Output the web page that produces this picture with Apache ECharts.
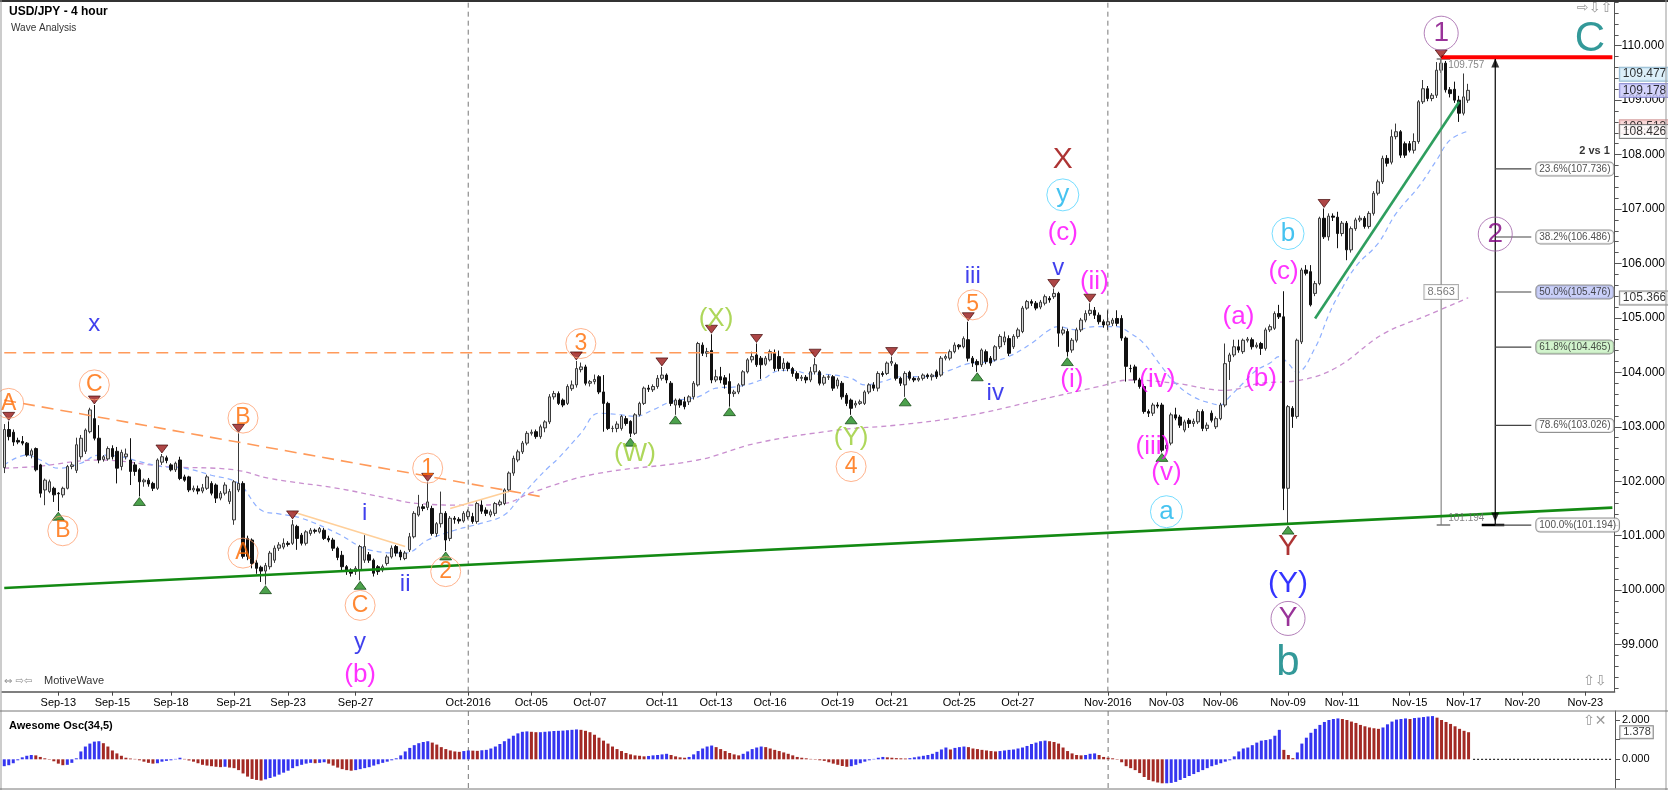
<!DOCTYPE html>
<html><head><meta charset="utf-8">
<script src="https://cdn.jsdelivr.net/npm/echarts@6/dist/echarts.min.js"></script>
<style>html,body{margin:0;padding:0;background:#fff}#c{width:1668px;height:790px}</style>
</head><body><div id="c"></div>
<script>
// ---------- DATA ----------
// 4-hour candles: [open, close, low, high], one per slot
const candles = [
[102.25,102.95,102.15,103.05],[102.95,102.82,102.75,103.10],[102.90,102.72,102.65,102.95],[102.75,102.72,102.68,102.80],[102.73,102.70,102.66,102.83],
[102.70,102.48,102.45,102.72],[102.48,102.56,102.42,102.60],[102.60,102.21,102.18,102.62],[102.30,101.78,101.70,102.32],[101.84,102.02,101.56,102.05],
[101.81,101.99,101.78,102.03],[101.87,101.75,101.62,101.90],[101.78,101.77,101.45,101.80],[101.75,101.87,101.70,101.90],[101.87,102.27,101.85,102.30],
[102.27,102.30,102.22,102.35],[102.20,102.67,102.15,102.80],[102.45,102.79,102.40,102.85],[102.55,102.94,102.50,102.97],[102.91,103.31,102.88,103.35],
[103.15,102.79,102.75,103.40],[102.79,102.39,102.33,103.03],[102.40,102.45,102.36,102.48],[102.41,102.60,102.38,102.64],[102.60,102.45,102.40,102.66],
[102.55,102.24,101.96,102.63],[102.27,102.53,102.20,102.58],[102.45,102.50,102.40,102.60],[102.39,102.18,101.93,102.79],[102.30,102.18,102.10,102.35],
[102.21,101.99,101.72,102.24],[101.99,102.02,101.90,102.05],[102.02,101.95,101.90,102.06],[101.96,101.87,101.82,101.99],[101.87,102.39,101.84,102.42],
[102.35,102.45,102.30,102.50],[102.43,102.38,102.33,102.47],[102.30,102.21,102.18,102.33],[102.21,102.33,102.17,102.36],[102.39,102.05,102.02,102.45],
[102.08,102.02,101.99,102.12],[102.08,101.84,101.80,102.10],[101.84,101.87,101.80,101.92],[101.86,101.82,101.76,101.92],[101.82,101.88,101.78,101.95],
[101.87,102.08,101.84,102.12],[101.96,101.78,101.74,102.00],[101.93,101.69,101.60,101.96],[101.69,101.78,101.65,101.82],[101.78,101.93,101.74,101.98],
[101.63,101.81,101.58,101.86],[101.29,101.99,101.20,102.02],[101.84,101.96,101.80,102.88],[101.96,100.62,100.58,102.00],[100.95,100.62,100.55,101.00],
[100.92,100.49,100.40,100.95],[100.50,100.40,100.30,100.55],[100.42,100.35,100.15,100.45],[100.35,100.45,100.10,100.50],[100.43,100.68,100.38,100.72],
[100.55,100.77,100.50,100.82],[100.77,100.83,100.72,100.88],[100.79,100.86,100.75,100.95],[100.86,100.84,100.80,100.90],[100.86,101.20,100.83,101.29],
[101.17,100.95,100.74,101.20],[101.01,100.86,100.82,101.05],[100.86,101.07,100.82,101.10],[101.04,101.10,101.00,101.14],[101.10,101.08,101.04,101.13],
[101.07,101.13,101.04,101.16],[101.10,100.95,100.92,101.14],[100.95,100.92,100.88,101.00],[100.92,100.77,100.72,100.96],[100.77,100.60,100.55,100.80],
[100.64,100.43,100.36,100.72],[100.43,100.34,100.28,100.46],[100.37,100.31,100.25,100.40],[100.34,100.40,100.28,100.44],[100.37,100.80,100.18,100.83],
[100.55,100.80,100.50,101.01],[100.65,100.55,100.50,100.70],[100.55,100.31,100.25,100.58],[100.43,100.34,100.28,100.46],[100.37,100.43,100.33,100.47],
[100.49,100.61,100.45,100.65],[100.61,100.77,100.58,100.82],[100.80,100.68,100.62,100.83],[100.70,100.61,100.55,100.74],[100.58,100.68,100.55,100.72],
[100.74,100.98,100.70,101.05],[100.98,101.41,100.95,101.45],[101.38,101.53,101.35,101.75],[101.53,101.50,101.45,101.58],[101.52,101.62,101.47,101.98],
[101.50,101.04,101.00,101.55],[101.04,101.22,100.98,101.25],[101.22,101.41,101.15,101.81],[101.41,100.92,100.72,101.45],[100.95,101.32,100.90,101.36],
[101.32,101.30,101.22,101.36],[101.30,101.27,101.22,101.34],[101.27,101.41,101.24,101.45],[101.35,101.44,101.30,101.48],[101.35,101.26,101.22,101.42],
[101.26,101.59,101.22,101.63],[101.56,101.45,101.40,101.65],[101.47,101.41,101.36,101.52],[101.38,101.44,101.34,101.48],[101.41,101.59,101.36,101.62],
[101.57,101.62,101.54,101.66],[101.59,101.84,101.56,101.87],[101.84,102.15,101.80,102.18],[102.15,102.42,102.10,102.47],[102.39,102.54,102.35,102.58],
[102.54,102.70,102.50,102.74],[102.70,102.88,102.66,102.92],[102.88,102.90,102.84,102.95],[102.91,102.82,102.78,102.95],[102.82,103.00,102.78,103.04],
[102.98,103.09,102.90,103.12],[103.09,103.55,103.05,103.60],[103.55,103.61,103.50,103.66],[103.61,103.43,103.40,103.65],[103.49,103.40,103.36,103.52],
[103.43,103.74,103.40,103.78],[103.70,103.77,103.66,103.85],[103.77,104.07,103.72,104.21],[104.05,104.10,104.00,104.18],[104.10,103.80,103.76,104.14],
[103.80,103.83,103.74,103.86],[103.83,103.87,103.78,103.96],[103.92,103.64,103.60,103.95],[103.64,103.43,102.91,103.95],[103.43,102.97,102.94,103.46],
[102.97,102.97,102.90,103.02],[102.97,103.05,102.90,103.10],[102.97,103.19,102.93,103.22],[103.15,103.06,103.02,103.20],[103.10,102.88,102.81,103.12],
[102.88,103.22,102.85,103.25],[103.22,103.43,103.19,103.46],[103.43,103.71,103.40,103.74],[103.71,103.69,103.64,103.77],[103.68,103.74,103.64,103.78],
[103.74,103.89,103.70,103.95],[103.89,103.95,103.85,104.10],[103.95,103.86,103.80,103.98],[103.80,103.43,103.38,103.84],[103.40,103.49,103.22,103.52],
[103.49,103.40,103.35,103.52],[103.46,103.37,103.32,103.55],[103.46,103.55,103.40,103.58],[103.55,103.80,103.50,103.84],[103.77,104.53,103.74,104.56],
[104.50,104.35,104.30,104.55],[104.35,104.38,104.28,104.45],[104.40,103.86,103.80,104.70],[103.86,103.92,103.82,104.05],[103.92,103.86,103.80,104.10],
[103.90,103.78,103.70,103.95],[103.83,103.61,103.37,103.98],[103.61,103.64,103.55,103.68],[103.64,103.77,103.60,103.80],[103.77,104.01,103.74,104.04],
[104.01,104.23,103.98,104.26],[104.23,104.29,104.18,104.38],[104.32,104.14,104.10,104.53],[104.26,104.14,103.88,104.30],[104.15,104.26,104.12,104.30],
[104.23,104.38,104.20,104.42],[104.35,104.07,104.02,104.42],[104.29,104.07,104.02,104.40],[104.07,104.17,104.02,104.26],[104.17,104.07,104.02,104.20],
[104.07,103.98,103.92,104.10],[103.98,103.89,103.84,104.02],[103.89,103.91,103.84,103.95],[103.91,103.86,103.80,103.95],[103.86,104.01,103.82,104.10],
[104.01,104.14,103.96,104.26],[104.01,103.80,103.76,104.04],[103.80,103.91,103.76,103.95],[103.91,103.92,103.86,103.96],[103.92,103.71,103.66,103.95],
[103.75,103.86,103.70,103.90],[103.80,103.55,103.50,103.84],[103.58,103.43,103.38,103.62],[103.49,103.34,103.22,103.52],[103.40,103.43,103.35,103.48],
[103.43,103.46,103.40,103.50],[103.43,103.64,103.40,103.67],[103.64,103.77,103.60,103.80],[103.77,103.71,103.66,103.82],[103.71,103.98,103.65,104.02],
[103.98,103.96,103.92,104.02],[103.98,104.17,103.95,104.20],[104.17,104.20,104.12,104.29],[104.14,103.89,103.85,104.18],[103.89,103.80,103.75,103.92],
[103.77,103.98,103.55,104.02],[104.00,103.89,103.85,104.03],[103.89,103.86,103.82,103.92],[103.86,103.89,103.83,103.93],[103.89,103.95,103.85,103.98],
[103.95,103.92,103.88,103.98],[103.92,103.95,103.85,103.98],[104.01,103.92,103.88,104.05],[103.95,104.26,103.92,104.30],[104.26,104.29,104.22,104.33],
[104.26,104.38,104.22,104.42],[104.38,104.50,104.35,104.55],[104.50,104.47,104.42,104.52],[104.47,104.62,104.44,104.66],[104.60,104.26,104.20,104.93],
[104.26,104.17,104.10,104.30],[104.20,104.14,104.01,104.24],[104.14,104.41,104.10,104.44],[104.38,104.20,104.15,104.42],[104.26,104.17,104.12,104.30],
[104.23,104.47,104.20,104.50],[104.47,104.66,104.43,104.70],[104.56,104.65,104.50,104.75],[104.62,104.35,104.30,104.68],[104.47,104.66,104.43,104.70],
[104.66,104.78,104.62,104.82],[104.75,105.18,104.72,105.22],[105.18,105.30,105.15,105.33],[105.30,105.27,105.22,105.34],[105.27,105.18,105.14,105.31],
[105.20,105.29,105.16,105.33],[105.27,105.39,105.23,105.43],[105.36,105.33,105.28,105.40],[105.39,105.45,105.35,105.54],[105.45,104.72,104.47,105.48],
[104.72,104.78,104.68,104.84],[104.75,104.38,104.29,104.80],[104.41,104.59,104.36,104.63],[104.59,104.78,104.55,104.82],[104.78,104.96,104.74,105.00],
[104.96,105.08,104.92,105.14],[105.08,105.14,105.04,105.27],[105.14,105.05,104.98,105.20],[105.05,104.93,104.88,105.10],[104.93,104.87,104.82,104.97],
[104.87,104.93,104.78,105.14],[104.90,104.96,104.85,105.00],[104.99,104.90,104.85,105.14],[104.99,104.63,104.58,105.05],[104.63,104.11,103.83,104.66],
[104.07,104.07,104.00,104.14],[104.10,103.86,103.80,104.14],[103.86,103.74,103.70,103.90],[103.74,103.28,103.24,103.78],[103.28,103.25,103.18,103.32],
[103.25,103.40,103.20,103.44],[103.40,103.38,103.34,103.45],[103.40,102.57,102.53,103.44],[102.60,102.66,102.55,102.70],[102.70,103.22,102.66,103.26],
[103.22,103.16,103.12,103.35],[103.18,103.03,102.98,103.22],[102.94,103.09,102.90,103.13],[103.12,103.06,102.98,103.16],[103.06,103.10,103.00,103.15],
[103.09,103.28,103.05,103.32],[103.28,102.97,102.92,103.32],[102.97,103.03,102.92,103.08],[103.25,103.12,103.08,103.30],[103.00,103.15,102.96,103.19],
[103.15,103.40,103.12,103.44],[103.40,104.16,103.36,104.53],[104.20,104.32,103.86,104.36],[104.32,104.47,104.28,104.60],[104.47,104.41,104.36,104.60],
[104.38,104.59,104.34,104.62],[104.59,104.61,104.55,104.65],[104.60,104.47,104.42,104.64],[104.47,104.50,104.44,104.55],[104.53,104.44,104.32,104.56],
[104.44,104.78,104.40,104.82],[104.78,104.84,104.74,104.88],[104.81,105.08,104.78,105.12],[105.08,105.02,104.98,105.24],[105.02,101.87,101.47,105.49],
[101.87,103.37,101.194,103.40],[103.34,103.19,102.98,103.38],[103.19,104.59,103.15,104.62],[104.56,105.88,104.52,105.92],[105.88,105.82,105.78,105.97],
[105.85,105.24,105.21,105.97],[105.45,105.63,105.40,105.68],[105.63,106.83,105.60,106.86],[106.83,106.49,106.45,107.01],[106.49,106.87,106.42,106.92],
[106.87,106.85,106.78,106.92],[106.85,106.55,106.28,106.95],[106.55,106.74,106.50,106.78],[106.74,106.25,106.06,106.78],[106.25,106.64,106.20,106.68],
[106.64,106.80,106.60,106.84],[106.80,106.83,106.76,106.88],[106.83,106.68,106.64,106.87],[106.68,106.92,106.64,106.96],[106.92,107.29,106.88,107.33],
[107.29,107.50,107.25,107.54],[107.50,107.93,107.46,107.98],[107.93,107.84,107.78,107.99],[107.86,108.33,107.82,108.46],[108.33,108.42,108.28,108.57],
[108.42,107.99,107.94,108.45],[108.20,107.99,107.94,108.24],[108.20,108.08,108.04,108.25],[108.08,108.24,108.02,108.39],[108.24,108.97,108.20,109.00],
[108.97,109.21,108.93,109.37],[109.21,109.03,108.98,109.26],[109.03,109.09,108.98,109.13],[109.09,109.55,109.04,109.70],[109.55,109.68,109.50,109.757],
[109.68,109.19,109.14,109.72],[109.19,109.12,109.05,109.24],[109.20,109.00,108.95,109.34],[109.00,108.76,108.60,109.08],[108.76,109.06,108.72,109.49],
[109.00,109.18,108.95,109.30]
];

// Awesome Oscillator (34,5), one value per candle
const aoValues = [
-0.35,-0.30,-0.20,-0.05,0.10,0.18,0.22,0.20,0.12,0.05,
-0.02,-0.10,-0.22,-0.30,-0.28,-0.18,0.05,0.40,0.65,0.80,
0.90,0.92,0.82,0.65,0.45,0.30,0.18,0.08,0.04,0.02,
-0.05,-0.12,-0.18,-0.22,-0.20,-0.12,-0.08,-0.05,0.02,0.08,
0.02,-0.06,-0.12,-0.20,-0.28,-0.32,-0.35,-0.38,-0.40,-0.38,
-0.42,-0.45,-0.55,-0.72,-0.88,-1.00,-1.05,-1.08,-1.02,-0.95,
-0.88,-0.78,-0.68,-0.58,-0.45,-0.35,-0.28,-0.22,-0.18,-0.20,
-0.18,-0.15,-0.22,-0.32,-0.42,-0.50,-0.55,-0.58,-0.55,-0.50,
-0.45,-0.40,-0.32,-0.25,-0.18,-0.12,-0.05,0.05,0.20,0.40,
0.58,0.72,0.82,0.88,0.92,0.85,0.75,0.62,0.52,0.45,
0.40,0.38,0.42,0.45,0.44,0.43,0.46,0.48,0.55,0.65,
0.78,0.92,1.05,1.20,1.32,1.40,1.42,1.40,1.38,1.38,
1.40,1.42,1.44,1.45,1.46,1.48,1.50,1.52,1.50,1.45,
1.38,1.25,1.10,0.95,0.80,0.65,0.52,0.42,0.32,0.25,
0.20,0.18,0.15,0.17,0.20,0.22,0.25,0.28,0.22,0.15,
0.10,0.08,0.12,0.25,0.42,0.55,0.65,0.70,0.62,0.52,
0.42,0.32,0.25,0.20,0.28,0.40,0.52,0.60,0.65,0.62,
0.55,0.48,0.42,0.35,0.28,0.20,0.12,0.08,0.05,0.02,
-0.02,-0.05,-0.08,-0.15,-0.22,-0.28,-0.34,-0.38,-0.35,-0.28,
-0.20,-0.12,-0.05,0.02,0.08,0.12,0.10,0.08,0.06,0.05,
0.04,0.06,0.10,0.14,0.18,0.22,0.28,0.38,0.50,0.60,
0.50,0.58,0.62,0.65,0.62,0.55,0.52,0.48,0.45,0.42,
0.40,0.42,0.45,0.48,0.50,0.55,0.60,0.68,0.78,0.85,
0.92,0.95,0.92,0.88,0.80,0.60,0.42,0.30,0.22,0.20,
0.22,0.28,0.30,0.22,0.12,0.08,0.05,-0.02,-0.15,-0.35,
-0.45,-0.55,-0.70,-0.90,-1.05,-1.12,-1.18,-1.22,-1.22,-1.20,
-1.15,-1.05,-0.95,-0.85,-0.75,-0.65,-0.55,-0.45,-0.35,-0.28,
-0.20,-0.12,-0.05,0.15,0.40,0.55,0.60,0.72,0.85,0.95,
0.98,1.02,1.20,1.50,0.48,0.22,0.06,0.35,0.80,1.10,
1.35,1.55,1.75,1.90,2.00,2.05,2.08,2.05,2.00,1.92,
1.85,1.75,1.68,1.62,1.58,1.55,1.62,1.78,1.92,2.02,
2.05,2.08,2.05,2.10,2.12,2.15,2.18,2.20,2.12,2.00,
1.90,1.80,1.68,1.55,1.45,1.378
];

// date labels on the time axis: [slot, text]
const xTickLabels = [[12,'Sep-13'],[24,'Sep-15'],[37,'Sep-18'],[51,'Sep-21'],[63,'Sep-23'],[78,'Sep-27'],
[103,'Oct-2016'],[117,'Oct-05'],[130,'Oct-07'],[146,'Oct-11'],[158,'Oct-13'],[170,'Oct-16'],[185,'Oct-19'],
[197,'Oct-21'],[212,'Oct-25'],[225,'Oct-27'],[245,'Nov-2016'],[258,'Nov-03'],[270,'Nov-06'],[285,'Nov-09'],
[297,'Nov-11'],[312,'Nov-15'],[324,'Nov-17'],[337,'Nov-20'],[351,'Nov-23']];
const monthStarts = [103, 245];
const priceTicks = [99,100,101,102,103,104,105,106,107,108,109,110];
const aoTicks = [0, 2];

// moving averages: [slot, price]
const blueMA = [[0,102.30],[5,102.48],[8,102.39],[12,102.24],[17,102.33],[21,102.48],[26,102.45],[30,102.36],[35,102.27],[40,102.24],
[46,102.11],[52,101.96],[57,101.47],[61,101.40],[66,101.32],[74,101.04],[81,100.74],[89,100.68],[94,100.92],[100,101.10],[106,101.23],
[111,101.38],[114,101.65],[118,102.02],[121,102.27],[123,102.42],[128,102.88],[132,103.25],[137,103.22],[140,103.19],[144,103.31],
[148,103.46],[154,103.55],[158,103.71],[163,103.74],[168,103.86],[172,104.03],[175,104.04],[178,103.98],[183,103.96],[188,103.89],
[191,103.77],[195,103.83],[199,103.92],[205,103.92],[210,104.04],[214,104.16],[219,104.20],[223,104.29],[228,104.53],[232,104.78],
[234,104.84],[238,104.78],[242,104.84],[247,104.84],[250,104.72],[253,104.53],[257,104.10],[260,103.80],[264,103.55],[268,103.43],
[270,103.40],[272,103.55],[275,103.80],[278,104.04],[281,104.17],[283,104.29],[285,104.17],[287,104.00],[291,104.45],[294,105.05],
[296,105.39],[300,105.94],[305,106.37],[309,106.92],[314,107.41],[318,107.90],[321,108.27],[325,108.43]];
const purpleMA = [[0,102.24],[7,102.27],[21,102.39],[36,102.27],[51,102.21],[59,102.05],[74,101.87],[85,101.69],[92,101.59],[103,101.56],
[111,101.59],[117,101.79],[131,102.13],[154,102.39],[167,102.70],[185,102.94],[198,103.03],[213,103.19],[228,103.46],[243,103.74],
[250,103.86],[260,103.80],[271,103.67],[279,103.80],[288,103.86],[296,104.10],[306,104.70],[316,105.05],[325,105.37]];

// swing markers: candle indexes of marked highs and lows
const peakIdx = [1,20,35,52,64,94,127,146,157,167,180,197,214,233,241,293,319];
const troughIdx = [12,30,58,79,98,139,149,161,188,200,216,236,257,285];

// trend lines: [slot, price]
const trendLong = [[0,100.04],[357,101.515]];
const trendShort = [[291,104.99],[323,108.97]];
const orangeSlope = [[0,103.49],[119,101.72]];
const orangeFlat = [[0,104.36],[210,104.36]];
const peachA = [[64,101.44],[89,100.80]];
const peachB = [[99,101.50],[112,101.81]];
const redLevel = [[319,109.79],[357,109.79]];

// wave labels: [slot, price, text]
const orangeCircled = [[1,103.43,'A'],[20,103.77,'C'],[13,101.09,'B'],[53,103.16,'B'],[53,100.68,'A'],[79,99.72,'C'],
  [94,102.24,'1'],[98,100.34,'2'],[128,104.53,'3'],[215,105.24,'5'],[188,102.27,'4']];
const blueRoman = [[20,104.89,'x'],[80,101.41,'i'],[89,100.10,'ii'],[79,99.04,'y'],[215,105.76,'iii'],[220,103.62,'iv'],[234,105.91,'v']];
const greenParen = [[158,104.99,'(X)'],[140,102.51,'(W)'],[188,102.79,'(Y)']];
const magentaLabels = [[79,98.45,'(b)'],[235,106.57,'(c)'],[242,105.67,'(ii)'],[237,103.86,'(i)'],[256,103.86,'(iv)'],
  [255,102.63,'(iii)'],[258,102.15,'(v)'],[274,105.02,'(a)'],[279,103.89,'(b)'],[284,105.85,'(c)']];
const cyanCircled = [[235,107.26,'y'],[258,101.44,'a'],[285,106.55,'b']];
const darkRedLabels = [[235,107.90,'X'],[285,100.80,'Y']];
const blueBig = [[285,100.11,'(Y)']];
const purpleCircled = [[285,99.48,'Y'],[319,110.23,'1'],[331,106.54,'2']];
const tealLabels = [[285,98.66,'b'],[352,110.12,'C']];

// Fibonacci retracement of the 101.194 -> 109.757 swing
const swingLow = 101.194, swingHigh = 109.757, swingSlot = 319, fibSlot = 331;
const fibLevels = [[23.6,107.736],[38.2,106.486],[50.0,105.476],[61.8,104.465],[78.6,103.026],[100.0,101.194]];
const priceTags = [109.477,109.178,108.513,108.426,105.366];
const aoTag = 1.378;

// ---------- CHART ----------
const SLOTS = 358;
const PMIN = 98.134, PMAX = 110.803;
const AOMIN = -1.46, AOMAX = 2.458;
const FONT = 'Liberation Sans, Arial, sans-serif';
const cats = Array.from({length: SLOTS}, (_, i) => 's' + i);
const tickMap = {};
xTickLabels.forEach(t => { tickMap[t[0]] = t[1]; });
const minorTicks = [];
for (let v = 98.2; v < 110.81; v += 0.2) minorTicks.push(Math.round(v * 10) / 10);

function seg(data, color, width, type, z, extra) {
  return Object.assign({type: 'line', xAxisIndex: 0, yAxisIndex: 0, data: data, symbol: 'none', silent: true,
    lineStyle: {color: color, width: width, type: type || 'solid'}, z: z || 5}, extra || {});
}
function labelSeries(arr, o) {
  return {type: 'scatter', xAxisIndex: 0, yAxisIndex: 0, silent: true, clip: false, z: 20,
    data: arr.map(a => ({value: [a[0], a[1]], name: a[2]})),
    symbol: 'circle', symbolSize: o.ring ? o.size : 1,
    itemStyle: {color: 'rgba(255,255,255,0)', borderColor: o.ring || 'rgba(0,0,0,0)', borderWidth: o.ring ? 1 : 0},
    label: {show: true, position: 'inside', formatter: '{b}', color: o.color, fontSize: o.fs, fontFamily: FONT,
      fontWeight: o.fw || 'normal'}};
}

const series = [];
// moving averages
series.push(seg(purpleMA, '#c98fcf', 1.3, [5, 4], 2, {smooth: 0.4}));
series.push(seg(blueMA, '#8fb0ff', 1.2, [5, 4], 2, {smooth: 0.4}));
// month separators
monthStarts.forEach(m => {
  series.push(seg([[m, PMIN], [m, PMAX]], '#777', 1, [5, 4], 1));
  series.push({type: 'line', xAxisIndex: 1, yAxisIndex: 2, data: [[m, AOMIN], [m, AOMAX]], symbol: 'none', silent: true,
    lineStyle: {color: '#777', width: 1, type: [5, 4]}, z: 1});
});
// candles
series.push({type: 'candlestick', xAxisIndex: 0, yAxisIndex: 0, data: candles, barWidth: 3, silent: true, z: 3,
  itemStyle: {color: '#d2d2d2', color0: '#111', borderColor: '#3a3a3a', borderColor0: '#111', borderWidth: 1}});
// trend lines
series.push(seg(orangeFlat, '#ff9a5a', 1.6, [12, 7], 4));
series.push(seg(orangeSlope, '#ff9a5a', 1.6, [12, 7], 4));
series.push(seg(peachA, '#ffcf99', 1.6, 'solid', 4));
series.push(seg(peachB, '#ffcf99', 1.6, 'solid', 4));
series.push(seg(trendLong, '#138a13', 2.6, 'solid', 6));
series.push(seg(trendShort, '#2e9e5e', 2.6, 'solid', 6));
series.push(seg(redLevel, '#ff0000', 4, 'solid', 6));
// swing markers
series.push({type: 'scatter', xAxisIndex: 0, yAxisIndex: 0, silent: true, z: 8,
  data: peakIdx.map(i => [i, candles[i][3]]), symbol: 'path://M0,0 L12,0 L6,8 Z', symbolSize: [12, 8], symbolOffset: [0, -5],
  itemStyle: {color: '#981818', borderColor: '#3a0000', borderWidth: 0.8}});
series.push({type: 'scatter', xAxisIndex: 0, yAxisIndex: 0, silent: true, z: 8,
  data: troughIdx.map(i => [i, candles[i][2]]), symbol: 'path://M6,0 L12,8 L0,8 Z', symbolSize: [12, 8], symbolOffset: [0, 5],
  itemStyle: {color: '#1f8a1f', borderColor: '#003300', borderWidth: 0.8}});
// measurement of swing
series.push(seg([[swingSlot, swingLow], [swingSlot, swingHigh]], '#a0a0a0', 1.5, 'solid', 5));
series.push(seg([[swingSlot - 1, swingHigh], [swingSlot + 2, swingHigh]], '#777', 1.5, 'solid', 5));
series.push(seg([[swingSlot - 1, swingLow], [swingSlot + 2, swingLow]], '#777', 1.5, 'solid', 5));
series.push({type: 'scatter', xAxisIndex: 0, yAxisIndex: 0, silent: true, clip: false, z: 12, symbolSize: 1,
  itemStyle: {color: 'rgba(0,0,0,0)'},
  data: [
    {value: [swingSlot, (swingLow + swingHigh) / 2], name: (swingHigh - swingLow).toFixed(3),
      label: {position: 'inside', backgroundColor: '#fff', borderColor: '#999', borderWidth: 1, padding: [2, 3, 1, 3], color: '#555', fontSize: 11}},
    {value: [swingSlot + 1, swingHigh - 0.12], name: swingHigh.toFixed(3), label: {position: 'right', distance: 2, color: '#666', fontSize: 10}},
    {value: [swingSlot + 1, swingLow + 0.13], name: swingLow.toFixed(3), label: {position: 'right', distance: 2, color: '#666', fontSize: 10}}
  ],
  label: {show: true, formatter: '{b}', fontFamily: FONT}});
// Fibonacci tool
series.push(seg([[fibSlot, swingLow], [fibSlot, swingHigh]], '#000', 1.2, 'solid', 7));
series.push(seg([[fibSlot - 3, swingLow], [fibSlot + 2, swingLow]], '#000', 2.5, 'solid', 7));
series.push({type: 'scatter', xAxisIndex: 0, yAxisIndex: 0, silent: true, z: 8,
  data: [[fibSlot, swingHigh]], symbol: 'path://M5,0 L10,10 L0,10 Z', symbolSize: [8, 9], symbolOffset: [0, 4], itemStyle: {color: '#000'}});
series.push({type: 'scatter', xAxisIndex: 0, yAxisIndex: 0, silent: true, z: 8,
  data: [[fibSlot, swingLow]], symbol: 'path://M0,0 L10,0 L5,10 Z', symbolSize: [8, 9], symbolOffset: [0, -8], itemStyle: {color: '#000'}});
const fibBg = {'50.0': '#bcc3f6', '61.8': '#c7f1c0'};
fibLevels.forEach(f => {
  series.push(seg([[fibSlot, f[1]], [fibSlot + 8, f[1]]], '#444', 1.2, 'solid', 7));
});
series.push({type: 'scatter', xAxisIndex: 0, yAxisIndex: 0, silent: true, clip: false, z: 12, symbolSize: 1,
  itemStyle: {color: 'rgba(0,0,0,0)'},
  data: fibLevels.map(f => ({value: [fibSlot + 9, f[1]], name: f[0].toFixed(1) + '%(' + f[1].toFixed(3) + ')',
    label: {backgroundColor: fibBg[f[0].toFixed(1)] || '#fff'}})),
  label: {show: true, position: 'right', distance: 0, formatter: '{b}', fontFamily: FONT, fontSize: 10, color: '#222',
    borderColor: '#777', borderWidth: 1, borderRadius: 4, padding: [2, 3, 1, 3]}});
series.push({type: 'scatter', xAxisIndex: 0, yAxisIndex: 0, silent: true, clip: false, z: 12, symbolSize: 1,
  itemStyle: {color: 'rgba(0,0,0,0)'}, data: [{value: [SLOTS - 1, 108.07], name: '2 vs 1'}],
  label: {show: true, position: 'left', distance: 2, formatter: '{b}', fontFamily: FONT, fontSize: 11, fontWeight: 'bold', color: '#000'}});
// wave labels
series.push(labelSeries(orangeCircled, {ring: '#ffa070', size: 30, color: '#ff6a00', fs: 23}));
series.push(labelSeries(blueRoman, {color: '#1010e8', fs: 24}));
series.push(labelSeries(greenParen, {color: '#9acd32', fs: 26}));
series.push(labelSeries(magentaLabels, {color: '#ff00ff', fs: 26}));
series.push(labelSeries(cyanCircled, {ring: '#55d4ff', size: 32, color: '#18b4ec', fs: 26}));
series.push(labelSeries(darkRedLabels, {color: '#990000', fs: 30}));
series.push(labelSeries(blueBig, {color: '#0000ff', fs: 30}));
series.push(labelSeries(purpleCircled, {ring: '#a060a8', size: 34, color: '#800080', fs: 28}));
series.push(labelSeries(tealLabels, {color: '#008080', fs: 42}));
// right-axis value tags
const tagBg = ['#d3ebf7', '#c8c8fa', '#f7d0d0', '#ffffff', '#ffffff'];
const tagBorder = ['#7aa8c4', '#7c7cc8', '#c88', '#666', '#666'];
series.push({type: 'scatter', xAxisIndex: 0, yAxisIndex: 0, silent: true, clip: false, z: 30, symbolSize: 1,
  itemStyle: {color: 'rgba(0,0,0,0)'},
  data: [2, 0, 1, 3, 4].map(k => ({value: [SLOTS - 1, priceTags[k]], name: priceTags[k].toFixed(3),
    label: {backgroundColor: tagBg[k], borderColor: tagBorder[k]}})),
  label: {show: true, position: 'right', distance: 7, formatter: '{b}', fontFamily: FONT, fontSize: 12, color: '#000',
    borderWidth: 1, padding: [1, 2, 0, 3]}});
// Awesome oscillator
series.push({type: 'bar', xAxisIndex: 1, yAxisIndex: 2, barWidth: 3, silent: true, z: 3,
  data: aoValues.map((v, i) => ({value: v, itemStyle: {color: (i > 0 && v < aoValues[i - 1]) ? '#a32a25' : '#3535f0'}}))});
series.push({type: 'line', xAxisIndex: 1, yAxisIndex: 2, data: [[aoValues.length, 0], [SLOTS - 1, 0]], symbol: 'none', silent: true,
  lineStyle: {color: '#000', width: 1, type: [2, 2]}, z: 2});
series.push({type: 'scatter', xAxisIndex: 1, yAxisIndex: 2, silent: true, clip: false, z: 30, symbolSize: 1,
  itemStyle: {color: 'rgba(0,0,0,0)'}, data: [{value: [SLOTS - 1, aoTag], name: aoTag.toFixed(3)}],
  label: {show: true, position: 'right', distance: 7, formatter: '{b}', fontFamily: FONT, fontSize: 11, color: '#000',
    backgroundColor: '#fff', borderColor: '#666', borderWidth: 1, padding: [1, 2, 0, 3]}});

const gl = (x1, y1, x2, y2, c, w) => ({type: 'line', silent: true, z: 50, shape: {x1, y1, x2, y2}, style: {stroke: c, lineWidth: w || 1}});
const gt = (x, y, text, size, color, weight, family) => ({type: 'text', silent: true, z: 50, x: x, y: y,
  style: {text: text, fontSize: size, fill: color, fontWeight: weight || 'normal', fontFamily: family || FONT}});

const chart = echarts.init(document.getElementById('c'), null, {renderer: 'canvas'});
chart.setOption({
  animation: false,
  backgroundColor: '#fff',
  grid: [
    {left: 2, right: 53, top: 2, height: 689.7, containLabel: false},
    {left: 2, right: 53, top: 711, height: 77, containLabel: false}
  ],
  xAxis: [
    {type: 'category', gridIndex: 0, data: cats, boundaryGap: true,
      axisLine: {lineStyle: {color: '#555', width: 1.5}},
      axisTick: {show: true, alignWithLabel: true, length: 4, interval: (i) => tickMap[i] !== undefined, lineStyle: {color: '#444'}},
      axisLabel: {interval: (i) => tickMap[i] !== undefined, formatter: (v, i) => tickMap[i] || '', fontSize: 11, color: '#000',
        fontFamily: FONT, margin: 6, hideOverlap: false},
      splitLine: {show: false}},
    {type: 'category', gridIndex: 1, data: cats, boundaryGap: true, show: false}
  ],
  yAxis: [
    {type: 'value', gridIndex: 0, position: 'right', min: PMIN, max: PMAX, scale: true,
      axisLine: {show: true, lineStyle: {color: '#555'}},
      axisTick: {show: true, length: 4, customValues: minorTicks, lineStyle: {color: '#555'}},
      axisLabel: {show: true, customValues: priceTicks, formatter: v => v.toFixed(3), fontSize: 12, color: '#000', fontFamily: FONT, margin: 7},
      splitLine: {show: false}},
    {type: 'value', gridIndex: 0, position: 'right', min: PMIN, max: PMAX, scale: true,
      axisLine: {show: false}, axisTick: {show: true, length: 7, customValues: priceTicks, lineStyle: {color: '#555'}},
      axisLabel: {show: false}, splitLine: {show: false}},
    {type: 'value', gridIndex: 1, position: 'right', min: AOMIN, max: AOMAX, scale: true,
      axisLine: {show: true, lineStyle: {color: '#555'}},
      axisTick: {show: true, length: 5, customValues: [-1, 0, 1, 2], lineStyle: {color: '#555'}},
      axisLabel: {show: true, customValues: aoTicks, formatter: v => v.toFixed(3), fontSize: 11, color: '#000', fontFamily: FONT, margin: 7},
      splitLine: {show: false}}
  ],
  series: series,
  graphic: [
    gl(0, 1, 1668, 1, '#333', 2),
    gl(1, 0, 1, 790, '#999', 1),
    gl(1666, 0, 1666, 790, '#999', 1),
    gl(0, 711, 1668, 711, '#777', 1),
    gl(0, 789, 1668, 789, '#777', 1),
    gt(9, 6, 'USD/JPY - 4 hour', 12, '#000', 'bold'),
    gt(11, 23, 'Wave Analysis', 10, '#333'),
    gt(1577, 1, '⇨⇩⇧', 14, '#999', 'normal', 'DejaVu Sans'),
    gt(4, 676, '⇔ ⇨⇦', 10, '#888', 'normal', 'DejaVu Sans'),
    gt(44, 675, 'MotiveWave', 11, '#333'),
    gt(1583, 674, '⇧⇩', 14, '#999', 'normal', 'DejaVu Sans'),
    gt(9, 720, 'Awesome Osc(34,5)', 11, '#000', 'bold'),
    gt(1583, 714, '⇧✕', 14, '#999', 'normal', 'DejaVu Sans')
  ]
});
</script>
</body></html>
